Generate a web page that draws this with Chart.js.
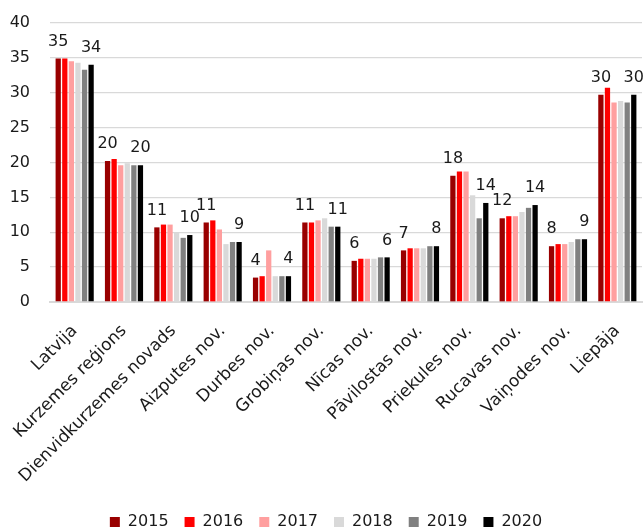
<!DOCTYPE html>
<html>
<head>
<meta charset="utf-8">
<script src="https://cdn.jsdelivr.net/npm/chart.js@4"></script>
<style>
  html, body { margin: 0; padding: 0; background: #fff; }
  #wrap { width: 644px; height: 531px; }
</style>
</head>
<body>
<div id="wrap"><canvas id="grafiks"></canvas></div>
<script>
// kategorijas (teritorijas)
const teritorijas = ['Latvija', 'Kurzemes reģions', 'Dienvidkurzemes novads', 'Aizputes nov.', 'Durbes nov.',
  'Grobiņas nov.', 'Nīcas nov.', 'Pāvilostas nov.', 'Priekules nov.', 'Rucavas nov.', 'Vaiņodes nov.', 'Liepāja'];

// vērtības pa gadiem
const v2015 = [34.9, 20.2, 10.7, 11.4, 3.5, 11.4, 5.9, 7.4, 18.1, 12.0, 8.0, 29.7];
const v2016 = [34.9, 20.5, 11.1, 11.7, 3.7, 11.4, 6.2, 7.7, 18.7, 12.3, 8.3, 30.7];
const v2017 = [34.5, 19.6, 11.1, 10.4, 7.4, 11.7, 6.2, 7.7, 18.7, 12.3, 8.3, 28.6];
const v2018 = [34.3, 19.9, 9.9, 8.3, 3.7, 12.0, 6.2, 7.7, 15.3, 12.9, 8.6, 28.8];
const v2019 = [33.3, 19.6, 9.2, 8.6, 3.7, 10.8, 6.4, 8.0, 12.0, 13.5, 9.0, 28.6];
const v2020 = [34.0, 19.6, 9.6, 8.6, 3.7, 10.8, 6.4, 8.0, 14.2, 13.9, 9.0, 29.7];

const gadi = ['2015', '2016', '2017', '2018', '2019', '2020'];
const krasas = ['#990000', '#ff0000', '#ff9f9f', '#d9d9d9', '#808080', '#000000'];
const vertibas = [v2015, v2016, v2017, v2018, v2019, v2020];

const yTicks = [0, 5, 10, 15, 20, 25, 30, 35, 40];

const FONTS = '"DejaVu Sans", sans-serif';

// vērtību uzraksti tikai pirmajai un pēdējai sērijai
const uzraksti = {
  id: 'uzraksti',
  afterDatasetsDraw(chart) {
    const ctx = chart.ctx;
    ctx.save();
    ctx.font = '16px ' + FONTS;
    ctx.fillStyle = '#1a1a1a';
    ctx.textAlign = 'center';
    ctx.textBaseline = 'bottom';
    [0, 5].forEach(function (di) {
      const meta = chart.getDatasetMeta(di);
      meta.data.forEach(function (bar, i) {
        const val = chart.data.datasets[di].data[i];
        ctx.fillText(Math.round(val), bar.x, bar.y - 9);
      });
    });
    ctx.restore();
  }
};

const ctx = document.getElementById('grafiks');
new Chart(ctx, {
  type: 'bar',
  data: {
    labels: teritorijas,
    datasets: gadi.map(function (g, i) {
      return {
        label: g,
        data: vertibas[i],
        backgroundColor: krasas[i],
        borderWidth: 0,
        barPercentage: 0.8,
        categoryPercentage: 0.8
      };
    })
  },
  options: {
    responsive: true,
    maintainAspectRatio: false,
    animation: false,
    layout: { padding: { left: 10, right: 2, top: 23, bottom: 0 } },
    plugins: {
      legend: {
        display: true,
        position: 'bottom',
        maxHeight: 33,
        labels: {
          boxWidth: 10,
          boxHeight: 10,
          padding: 16,
          color: '#1a1a1a',
          font: { family: FONTS, size: 16 }
        }
      },
      tooltip: { enabled: false }
    },
    scales: {
      x: {
        grid: { display: false },
        border: { display: true, color: '#d9d9d9', width: 2 },
        ticks: {
          color: '#1a1a1a',
          font: { family: FONTS, size: 17 },
          maxRotation: 45,
          minRotation: 45,
          autoSkip: false,
          padding: 11
        },
        afterFit: function (axis) {
          // pasver uzrakstu aizņemto vietu, lai zīmējuma laukums būtu kā oriģinālā
          axis.paddingLeft = 0;
          axis.paddingRight = 0;
          axis.height = 196;
        }
      },
      y: {
        min: 0,
        max: 40,
        afterBuildTicks: function (axis) {
          axis.ticks = yTicks.map(function (v) { return { value: v }; });
        },
        afterFit: function (axis) {
          axis.width = 40;
          axis.paddingTop = 0;
          axis.paddingBottom = 0;
        },
        grid: { color: '#d9d9d9', lineWidth: 1.3, drawTicks: false },
        border: { display: false },
        ticks: {
          color: '#1a1a1a',
          font: { family: FONTS, size: 16 },
          padding: 20
        }
      }
    }
  },
  plugins: [uzraksti]
});
</script>
</body>
</html>
